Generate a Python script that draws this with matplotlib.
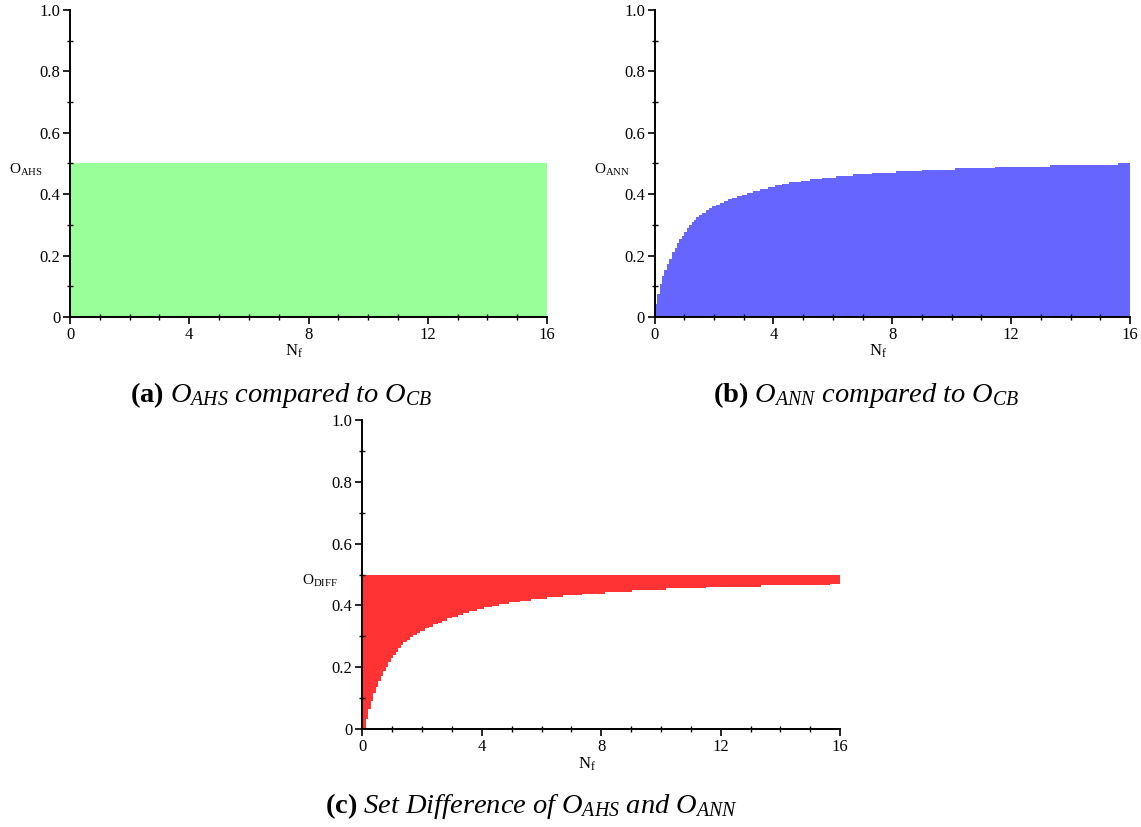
import matplotlib
matplotlib.use("Agg")
import matplotlib.pyplot as plt
from matplotlib.ticker import MultipleLocator

plt.rcParams['font.family'] = ['Liberation Serif', 'DejaVu Serif']
plt.rcParams['mathtext.fontset'] = 'custom'
plt.rcParams['mathtext.rm'] = 'Liberation Serif'
plt.rcParams['mathtext.it'] = 'Liberation Serif:italic'
plt.rcParams['mathtext.bf'] = 'Liberation Serif:bold'

# data
ahs_nf = [0, 16]
ahs_val = [0.5, 0.5]

ann_nf = [0, 0.08, 0.17, 0.25, 0.33, 0.41, 0.50, 0.58, 0.67, 0.75,
          0.83, 0.91, 1.00, 1.08, 1.17, 1.25, 1.33, 1.41, 1.50, 1.61,
          1.72, 1.83, 1.94, 2.06, 2.19, 2.33, 2.47, 2.61, 2.78, 2.94,
          3.11, 3.30, 3.55, 3.80, 4.05, 4.28, 4.53, 4.92, 5.24, 5.63,
          6.11, 6.67, 7.31, 8.13, 9.00, 10.12, 11.46, 13.30, 15.60, 16.0]
ann_val = [0.041, 0.076, 0.106, 0.132, 0.154, 0.174, 0.190, 0.211, 0.225, 0.240,
           0.255, 0.265, 0.276, 0.290, 0.300, 0.309, 0.317, 0.325, 0.332, 0.340,
           0.347, 0.354, 0.360, 0.366, 0.372, 0.378, 0.384, 0.389, 0.393, 0.398,
           0.404, 0.412, 0.418, 0.423, 0.429, 0.434, 0.439, 0.444, 0.449, 0.454,
           0.460, 0.465, 0.469, 0.475, 0.479, 0.484, 0.490, 0.495, 0.500, 0.500]

diff_nf = [0, 0.11, 0.20, 0.28, 0.37, 0.45, 0.54, 0.62, 0.70, 0.78,
           0.87, 0.95, 1.04, 1.12, 1.21, 1.29, 1.38, 1.49, 1.60, 1.71,
           1.82, 1.94, 2.10, 2.24, 2.38, 2.52, 2.66, 2.83, 3.02, 3.19,
           3.36, 3.56, 3.84, 4.09, 4.34, 4.57, 4.90, 5.27, 5.66, 6.17,
           6.72, 7.36, 8.14, 9.04, 10.16, 11.50, 13.35, 15.67, 16.0]
diff_low = [0.0, 0.032, 0.065, 0.092, 0.115, 0.135, 0.155, 0.173, 0.188, 0.202,
            0.216, 0.229, 0.239, 0.250, 0.261, 0.272, 0.281, 0.288, 0.297, 0.304,
            0.312, 0.318, 0.326, 0.331, 0.339, 0.344, 0.350, 0.358, 0.363, 0.369,
            0.376, 0.383, 0.388, 0.394, 0.399, 0.405, 0.410, 0.415, 0.421, 0.427,
            0.433, 0.438, 0.443, 0.449, 0.455, 0.461, 0.466, 0.469, 0.469]
diff_top = 0.5

x_ticks = [0, 4, 8, 12, 16]
y_ticks = [0, 0.2, 0.4, 0.6, 0.8, 1.0]
y_ticklabels = ['0', '0.2', '0.4', '0.6', '0.8', '1.0']


def style_axes(ax, ylab):
    ax.set_xlim(0, 16)
    ax.set_ylim(0, 1.0)
    for s in ['top', 'right']:
        ax.spines[s].set_visible(False)
    for s in ['left', 'bottom']:
        ax.spines[s].set_linewidth(1.4)
    ax.set_xticks(x_ticks)
    ax.set_yticks(y_ticks)
    ax.set_yticklabels(y_ticklabels)
    ax.xaxis.set_minor_locator(MultipleLocator(1))
    ax.yaxis.set_minor_locator(MultipleLocator(0.1))
    ax.tick_params(which='major', direction='out', length=5, width=1.2,
                   labelsize=12, pad=2)
    ax.tick_params(which='minor', direction='inout', length=4, width=1.0)
    ax.set_ylabel(ylab, rotation=0, fontsize=11, ha='left', va='center')
    ax.yaxis.set_label_coords(-0.127, 0.48)
    ax.set_xlabel(r'$\mathrm{N_f}$', fontsize=12)
    ax.xaxis.set_label_coords(0.47, -0.085)


fig = plt.figure(figsize=(11.41, 8.27), dpi=100)

ax1 = fig.add_axes([0.0614, 0.6167, 0.418, 0.3712])
ax1.fill_between(ahs_nf, ahs_val, 0, color='#99ff99', linewidth=0)
style_axes(ax1, r'$\mathrm{O_{AHS}}$')

ax2 = fig.add_axes([0.5737, 0.6167, 0.4167, 0.3712])
ax2.fill_between(ann_nf, ann_val, 0, step='post', color='#6666ff', linewidth=0)
style_axes(ax2, r'$\mathrm{O_{ANN}}$')

ax3 = fig.add_axes([0.3175, 0.1185, 0.4189, 0.3735])
ax3.fill_between(diff_nf, diff_low, diff_top, step='post', color='#ff3333', linewidth=0)
style_axes(ax3, r'$\mathrm{O_{DIFF}}$')

cap_size = 20.5
fig.text(0.2463, 0.514, r'$\mathbf{(a)}\ \mathit{O_{AHS}\ compared\ to\ O_{CB}}$',
         fontsize=cap_size, ha='center', va='baseline')
fig.text(0.759, 0.514, r'$\mathbf{(b)}\ \mathit{O_{ANN}\ compared\ to\ O_{CB}}$',
         fontsize=cap_size, ha='center', va='baseline')
fig.text(0.466, 0.017, r'$\mathbf{(c)}\ \mathit{Set\ Difference\ of\ O_{AHS}\ and\ O_{ANN}}$',
         fontsize=cap_size, ha='center', va='baseline')

fig.savefig('out.png', dpi=100)
